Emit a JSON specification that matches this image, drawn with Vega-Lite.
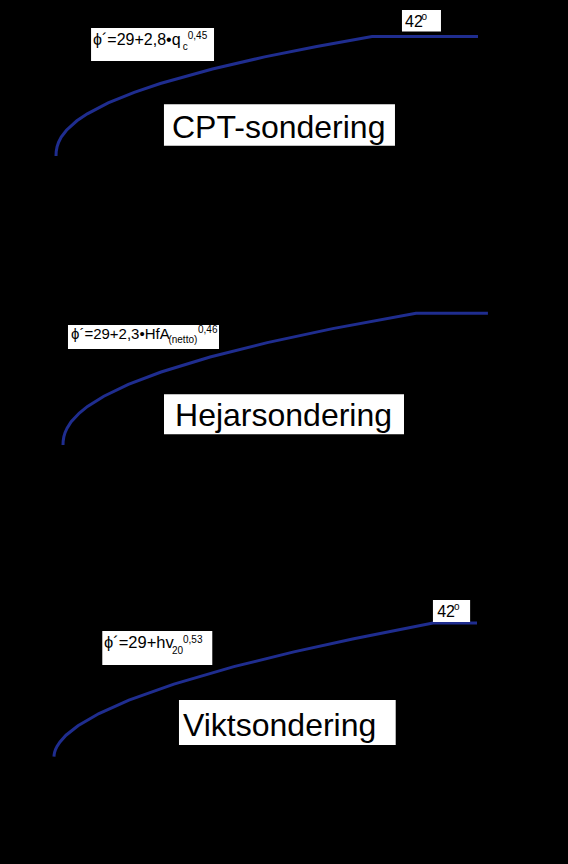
{
  "$schema": "https://vega.github.io/schema/vega-lite/v6.json",
  "background": "black",
  "padding": 0,
  "spacing": 0,
  "config": {
    "view": {"stroke": null},
    "text": {"font": "Liberation Sans", "color": "black", "align": "left", "baseline": "alphabetic"}
  },
  "datasets": {
    "curve": [
      {"panel": "CPT", "x": 0, "y": 29},
      {"panel": "CPT", "x": 0.02, "y": 29.48},
      {"panel": "CPT", "x": 0.1, "y": 29.99},
      {"panel": "CPT", "x": 0.25, "y": 30.5},
      {"panel": "CPT", "x": 0.5, "y": 31.05},
      {"panel": "CPT", "x": 1, "y": 31.8},
      {"panel": "CPT", "x": 2, "y": 32.83},
      {"panel": "CPT", "x": 3, "y": 33.59},
      {"panel": "CPT", "x": 5, "y": 34.78},
      {"panel": "CPT", "x": 7.5, "y": 35.93},
      {"panel": "CPT", "x": 10, "y": 36.89},
      {"panel": "CPT", "x": 15, "y": 38.47},
      {"panel": "CPT", "x": 20, "y": 39.78},
      {"panel": "CPT", "x": 25, "y": 40.92},
      {"panel": "CPT", "x": 30.3, "y": 42},
      {"panel": "CPT", "x": 40.46, "y": 42},
      {"panel": "Hejar", "x": 0, "y": 29},
      {"panel": "Hejar", "x": 0.02, "y": 29.38},
      {"panel": "Hejar", "x": 0.1, "y": 29.8},
      {"panel": "Hejar", "x": 0.25, "y": 30.22},
      {"panel": "Hejar", "x": 0.5, "y": 30.67},
      {"panel": "Hejar", "x": 1, "y": 31.3},
      {"panel": "Hejar", "x": 2, "y": 32.16},
      {"panel": "Hejar", "x": 3, "y": 32.81},
      {"panel": "Hejar", "x": 5, "y": 33.82},
      {"panel": "Hejar", "x": 8, "y": 34.99},
      {"panel": "Hejar", "x": 12, "y": 36.21},
      {"panel": "Hejar", "x": 18, "y": 37.69},
      {"panel": "Hejar", "x": 25, "y": 39.11},
      {"panel": "Hejar", "x": 33, "y": 40.49},
      {"panel": "Hejar", "x": 43.2, "y": 42},
      {"panel": "Hejar", "x": 52.0, "y": 42},
      {"panel": "Vikt", "x": 0, "y": 29},
      {"panel": "Vikt", "x": 0.05, "y": 29.2},
      {"panel": "Vikt", "x": 0.2, "y": 29.43},
      {"panel": "Vikt", "x": 0.5, "y": 29.69},
      {"panel": "Vikt", "x": 1, "y": 30},
      {"panel": "Vikt", "x": 2, "y": 30.44},
      {"panel": "Vikt", "x": 4, "y": 31.09},
      {"panel": "Vikt", "x": 8, "y": 32.01},
      {"panel": "Vikt", "x": 15, "y": 33.2},
      {"panel": "Vikt", "x": 25, "y": 34.51},
      {"panel": "Vikt", "x": 40, "y": 36.06},
      {"panel": "Vikt", "x": 60, "y": 37.76},
      {"panel": "Vikt", "x": 80, "y": 39.2},
      {"panel": "Vikt", "x": 100, "y": 40.48},
      {"panel": "Vikt", "x": 126.4, "y": 42},
      {"panel": "Vikt", "x": 141.1, "y": 42}
    ],
    "boxes": [
      {"panel": "CPT", "x": 3.36, "x2": 15.15, "y": 39.34, "y2": 42.93},
      {"panel": "CPT", "x": 33.17, "x2": 36.91, "y": 42.55, "y2": 44.89},
      {"panel": "CPT", "x": 10.35, "x2": 32.5, "y": 30.12, "y2": 34.63},
      {"panel": "Hejar", "x": 0.61, "x2": 19.09, "y": 38.48, "y2": 40.85},
      {"panel": "Hejar", "x": 12.36, "x2": 41.73, "y": 30.06, "y2": 34.0},
      {"panel": "Vikt", "x": 16.11, "x2": 52.8, "y": 37.92, "y2": 41.23},
      {"panel": "Vikt", "x": 126.4, "x2": 138.8, "y": 42.1, "y2": 44.24},
      {"panel": "Vikt", "x": 41.69, "x2": 113.98, "y": 30.14, "y2": 34.52}
    ],
    "labels": [
      {"panel": "CPT", "role": "main", "x": 3.55, "y": 41.08, "text": "ϕ´=29+2,8•q"},
      {"panel": "CPT", "role": "sub", "x": 12.15, "y": 40.53, "text": "c"},
      {"panel": "CPT", "role": "sup", "x": 12.63, "y": 41.73, "text": "0,45"},
      {"panel": "CPT", "role": "deg", "x": 33.46, "y": 42.98, "text": "42"},
      {"panel": "CPT", "role": "degsup", "x": 35.05, "y": 43.8, "text": "o"},
      {"panel": "CPT", "role": "title", "x": 11.12, "y": 30.96, "text": "CPT-sondering"},
      {"panel": "Hejar", "role": "main", "x": 0.98, "y": 39.46, "text": "ϕ´=29+2,3•HfA"},
      {"panel": "Hejar", "role": "sub", "x": 12.9, "y": 39.04, "text": "(netto)"},
      {"panel": "Hejar", "role": "sup", "x": 16.52, "y": 40.03, "text": "0,46"},
      {"panel": "Hejar", "role": "title", "x": 13.71, "y": 30.91, "text": "Hejarsondering"},
      {"panel": "Vikt", "role": "main", "x": 16.68, "y": 39.57, "text": "ϕ´=29+hv"},
      {"panel": "Vikt", "role": "sub", "x": 39.36, "y": 38.96, "text": "20"},
      {"panel": "Vikt", "role": "sup", "x": 43.03, "y": 40.1, "text": "0,53"},
      {"panel": "Vikt", "role": "deg", "x": 127.8, "y": 42.59, "text": "42"},
      {"panel": "Vikt", "role": "degsup", "x": 133.4, "y": 43.27, "text": "o"},
      {"panel": "Vikt", "role": "title", "x": 43.03, "y": 31.04, "text": "Viktsondering"}
    ]
  },
  "vconcat": [
    {
      "width": 568,
      "height": 288,
      "encoding": {
        "x": {"field": "x", "type": "quantitative", "axis": null, "scale": {"domain": [-5.37, 49.09], "nice": false, "zero": false}},
        "y": {"field": "y", "type": "quantitative", "axis": null, "scale": {"domain": [14.64, 45.97], "nice": false, "zero": false}}
      },
      "layer": [
        {"data": {"name": "curve"}, "transform": [{"filter": "datum.panel == 'CPT'"}], "mark": {"type": "line", "color": "#1f2d8f", "strokeWidth": 3}, "encoding": {}},
        {"data": {"name": "boxes"}, "transform": [{"filter": "datum.panel == 'CPT'"}], "mark": {"type": "rect", "fill": "white"}, "encoding": {"x2": {"field": "x2"}, "y2": {"field": "y2"}}},
        {"data": {"name": "labels"}, "transform": [{"filter": "datum.panel == 'CPT' && datum.role == 'main'"}], "mark": {"type": "text", "fontSize": 16}, "encoding": {"text": {"field": "text"}}},
        {"data": {"name": "labels"}, "transform": [{"filter": "datum.panel == 'CPT' && (datum.role == 'sub' || datum.role == 'sup')"}], "mark": {"type": "text", "fontSize": 10}, "encoding": {"text": {"field": "text"}}},
        {"data": {"name": "labels"}, "transform": [{"filter": "datum.panel == 'CPT' && datum.role == 'deg'"}], "mark": {"type": "text", "fontSize": 16}, "encoding": {"text": {"field": "text"}}},
        {"data": {"name": "labels"}, "transform": [{"filter": "datum.panel == 'CPT' && datum.role == 'degsup'"}], "mark": {"type": "text", "fontSize": 10}, "encoding": {"text": {"field": "text"}}},
        {"data": {"name": "labels"}, "transform": [{"filter": "datum.panel == 'CPT' && datum.role == 'title'"}], "mark": {"type": "text", "fontSize": 32}, "encoding": {"text": {"field": "text"}}}
      ]
    },
    {
      "width": 568,
      "height": 288,
      "encoding": {
        "x": {"field": "x", "type": "quantitative", "axis": null, "scale": {"domain": [-7.71, 61.8], "nice": false, "zero": false}},
        "y": {"field": "y", "type": "quantitative", "axis": null, "scale": {"domain": [16.07, 44.5], "nice": false, "zero": false}}
      },
      "layer": [
        {"data": {"name": "curve"}, "transform": [{"filter": "datum.panel == 'Hejar'"}], "mark": {"type": "line", "color": "#1f2d8f", "strokeWidth": 3}, "encoding": {}},
        {"data": {"name": "boxes"}, "transform": [{"filter": "datum.panel == 'Hejar'"}], "mark": {"type": "rect", "fill": "white"}, "encoding": {"x2": {"field": "x2"}, "y2": {"field": "y2"}}},
        {"data": {"name": "labels"}, "transform": [{"filter": "datum.panel == 'Hejar' && datum.role == 'main'"}], "mark": {"type": "text", "fontSize": 15}, "encoding": {"text": {"field": "text"}}},
        {"data": {"name": "labels"}, "transform": [{"filter": "datum.panel == 'Hejar' && (datum.role == 'sub' || datum.role == 'sup')"}], "mark": {"type": "text", "fontSize": 10}, "encoding": {"text": {"field": "text"}}},
        {"data": {"name": "labels"}, "transform": [{"filter": "datum.panel == 'Hejar' && datum.role == 'title'"}], "mark": {"type": "text", "fontSize": 32}, "encoding": {"text": {"field": "text"}}}
      ]
    },
    {
      "width": 568,
      "height": 288,
      "encoding": {
        "x": {"field": "x", "type": "quantitative", "axis": null, "scale": {"domain": [-18.01, 171.45], "nice": false, "zero": false}},
        "y": {"field": "y", "type": "quantitative", "axis": null, "scale": {"domain": [18.56, 46.58], "nice": false, "zero": false}}
      },
      "layer": [
        {"data": {"name": "curve"}, "transform": [{"filter": "datum.panel == 'Vikt'"}], "mark": {"type": "line", "color": "#1f2d8f", "strokeWidth": 3}, "encoding": {}},
        {"data": {"name": "boxes"}, "transform": [{"filter": "datum.panel == 'Vikt'"}], "mark": {"type": "rect", "fill": "white"}, "encoding": {"x2": {"field": "x2"}, "y2": {"field": "y2"}}},
        {"data": {"name": "labels"}, "transform": [{"filter": "datum.panel == 'Vikt' && datum.role == 'main'"}], "mark": {"type": "text", "fontSize": 16.5}, "encoding": {"text": {"field": "text"}}},
        {"data": {"name": "labels"}, "transform": [{"filter": "datum.panel == 'Vikt' && (datum.role == 'sub' || datum.role == 'sup')"}], "mark": {"type": "text", "fontSize": 10}, "encoding": {"text": {"field": "text"}}},
        {"data": {"name": "labels"}, "transform": [{"filter": "datum.panel == 'Vikt' && datum.role == 'deg'"}], "mark": {"type": "text", "fontSize": 16}, "encoding": {"text": {"field": "text"}}},
        {"data": {"name": "labels"}, "transform": [{"filter": "datum.panel == 'Vikt' && datum.role == 'degsup'"}], "mark": {"type": "text", "fontSize": 10}, "encoding": {"text": {"field": "text"}}},
        {"data": {"name": "labels"}, "transform": [{"filter": "datum.panel == 'Vikt' && datum.role == 'title'"}], "mark": {"type": "text", "fontSize": 32}, "encoding": {"text": {"field": "text"}}}
      ]
    }
  ]
}
